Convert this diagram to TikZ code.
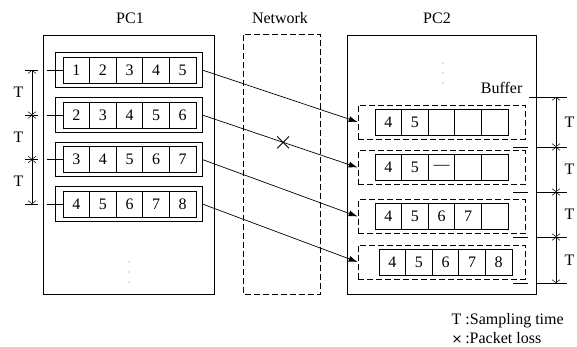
\documentclass[tikz,border=0pt]{standalone}
\usepackage{fontspec}
\setmainfont{Liberation Serif}
\usetikzlibrary{arrows.meta,shapes.misc}

\begin{document}
\begin{tikzpicture}[x=1pt,y=-1pt,every path/.style={line width=0.7pt},
    font=\fontsize{16}{19}\selectfont,
    pcbox/.style={draw,line width=0.9pt,minimum width=171pt,minimum height=259pt,inner sep=0pt},
    rowbox/.style={draw,minimum width=147pt,minimum height=34.5pt,inner sep=0pt},
    bufbox/.style={draw,dash pattern=on 6pt off 3pt,minimum width=167pt,minimum height=34pt,inner sep=0pt},
    cell/.style={draw,minimum width=26.6pt,minimum height=26pt,inner sep=0pt},
    dim/.style={{Straight Barb[length=3pt,width=8pt]}-{Straight Barb[length=3pt,width=8pt]},line width=0.5pt}]
  \useasboundingbox (0,0) rectangle (577,346);

  % the three columns
  \node[pcbox] (pc1) at (128.5,164.5) {};
  \node[pcbox,draw=none,minimum width=76pt] (net) at (282,164.5) {};
  \draw[dash pattern=on 6pt off 3pt] (net.north west) rectangle (net.south east);
  \node[pcbox,minimum width=189pt] (pc2) at (441.5,164.5) {};
  \node (pc1lab) at (130,18) {PC1};
  \node (netlab) at (280,18) {Network};
  \node (pc2lab) at (437,18) {PC2};
  \coordinate (dots1) at (129,272);
  \coordinate (dots2) at (443,73);
  \foreach \d in {-10,0,10}{
    \fill[gray] ([yshift=\d pt]dots1) circle (0.6pt);
    \fill[gray] ([yshift=\d pt]dots2) circle (0.6pt);
  }
  \node[anchor=east] (buflab) at (526,88) {Buffer};

  % sending side
  \foreach \r/\y in {1/70,2/115,3/159.5,4/204}{
    \node[rowbox] (s\r) at (128.5,\y) {};
    \foreach \c in {1,...,5}{
      \pgfmathtruncatemacro\n{\r+\c-1}
      \node[cell] (s\r-\c) at (49.7+26.6*\c,\y) {\n};
    }
    \coordinate (lt\r) at (32,\y);
    \draw ([xshift=-7pt]lt\r) -- ([xshift=6pt]lt\r);
    \draw ([xshift=-8pt]s\r.west) -- (s\r-1.west);
  }
  \draw[dim] (lt1) -- node[left=5pt] {T} (lt2);
  \draw[dim] (lt2) -- node[left=5pt] {T} (lt3);
  \draw[dim] (lt3) -- node[left=5pt] {T} (lt4);

  % receiving buffers
  \foreach \r/\y/\x/\lst in {1/122/375/{4,5,{},{},{}},2/167.5/375/{4,5,{\textemdash},{},{}},
      3/216.5/375/{4,5,6,7,{}},4/262/379/{4,5,6,7,8}}{
    \node[bufbox] (b\r) at (441.5,\y) {};
    \foreach \t [count=\c] in \lst{
      \node[cell] (b\r-\c) at (\x-13.3+26.6*\c,\y) {\t};
    }
  }

  % transmission
  \foreach \r in {1,...,4}{
    \draw[-{Latex[length=9pt,width=6pt]}] (s\r.east) -- (b\r.west);
  }
  \path (s2.east) -- (b2.west) node[pos=0.52,cross out,draw,line width=0.9pt,minimum size=11pt,inner sep=0pt] (loss) {};

  % sampling period at the receiver
  \foreach \i/\y in {0/97,1/147,2/192,3/237,4/283}{
    \coordinate (rt\i) at (556,\y);
  }
  \draw (529,97) -- ([xshift=11pt]rt0);
  \foreach \i in {1,...,4}{
    \draw ([xshift=-43pt]rt\i) -- ([xshift=-28pt]rt\i);
    \draw ([xshift=-19pt]rt\i) -- ([xshift=11pt]rt\i);
  }
  \draw[dim] (rt0) -- node[right=5pt] {T} (rt1);
  \draw[dim] (rt1) -- node[right=5pt] {T} (rt2);
  \draw[dim] (rt2) -- node[right=5pt] {T} (rt3);
  \draw[dim] (rt3) -- node[right=5pt] {T} (rt4);

  % legend
  \node[anchor=west] (leg1) at (448,321) {T :Sampling time};
  \node[anchor=west] (leg2) at (448,338) {{\fontspec{DejaVu Sans}\fontsize{13}{14}\selectfont ×}\,:Packet loss};
\end{tikzpicture}
\end{document}
